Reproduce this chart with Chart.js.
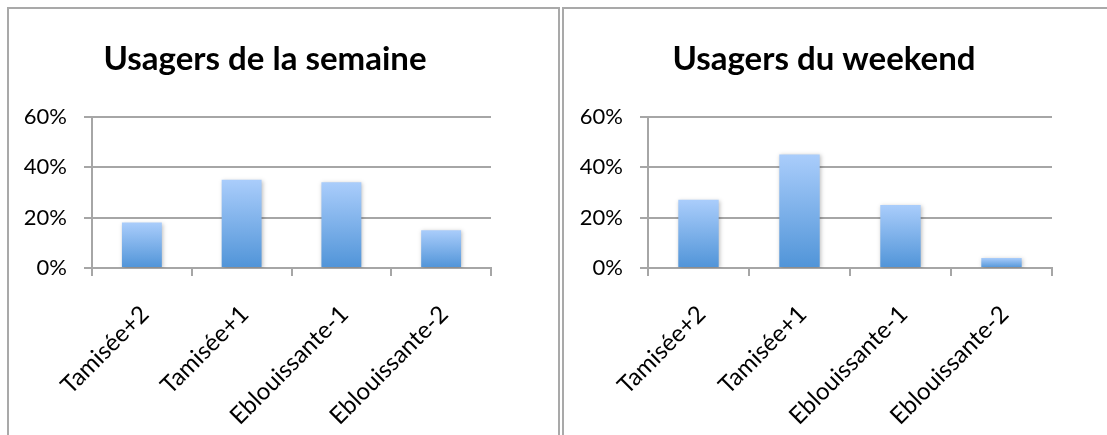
<!DOCTYPE html>
<html lang="fr">
<head>
  <meta charset="UTF-8">
  <title>Usagers</title>
  <script src="https://cdn.jsdelivr.net/npm/chart.js"></script>
  <style>
    body {
      margin: 0;
      background: #fff;
      width: 1107px;
      height: 435px;
      overflow: hidden;
      position: relative;
    }
    .box {
      position: absolute;
      top: 7px;
      border: 2px solid #a9a9a9;
      border-bottom: none;
      height: 440px;
    }
    #boxLeft { left: 7px; width: 549px; }
    #boxRight { left: 562px; width: 560px; }
    .box canvas { position: absolute; left: 0; top: 0; }
  </style>
</head>
<body>
  <div class="box" id="boxLeft"><canvas id="chartSemaine" width="549" height="426"></canvas></div>
  <div class="box" id="boxRight"><canvas id="chartWeekend" width="543" height="426"></canvas></div>

  <script>
    // values (percent)
    const categories = ["Tamisée+2", "Tamisée+1", "Eblouissante-1", "Eblouissante-2"];
    const semaineValues = [18, 35, 34, 15];
    const weekendValues = [27, 45, 25, 4];
    const yMax = 60;
    const yStep = 20;

    const gridColor = "#a6a6a6";
    const font = "Lato, 'Open Sans', sans-serif";

    // each bar gets its own light-to-dark gradient
    function barGradient(ctx) {
      const chart = ctx.chart;
      if (!chart.chartArea || !chart.scales.y) return "#7fb0ec";
      const y = chart.scales.y;
      const top = y.getPixelForValue(ctx.raw);
      const bottom = y.getPixelForValue(0);
      if (!isFinite(top) || top === bottom) return "#7fb0ec";
      const g = chart.ctx.createLinearGradient(0, top, 0, bottom);
      g.addColorStop(0, "rgb(170, 205, 251)");
      g.addColorStop(1, "rgb(80, 148, 216)");
      return g;
    }

    // soft shadow round the bars
    const barShadow = {
      id: "barShadow",
      beforeDatasetsDraw(chart) {
        const c = chart.ctx;
        c.save();
        c.shadowColor = "rgba(0, 0, 0, 0.25)";
        c.shadowBlur = 4;
        c.shadowOffsetX = 1;
        c.shadowOffsetY = 1;
      },
      afterDatasetsDraw(chart) {
        chart.ctx.restore();
      }
    };

    // the title sits a bit right of the plot centre in the original
    const titleShift = {
      id: "titleShift",
      afterLayout(chart, args, opts) {
        if (chart.titleBlock) {
          chart.titleBlock.left += opts.shift;
          chart.titleBlock.right += opts.shift;
        }
      }
    };

    function makeChart(id, title, values, pad) {
      return new Chart(document.getElementById(id), {
        type: "bar",
        data: {
          labels: categories,
          datasets: [{
            data: values,
            backgroundColor: barGradient,
            borderWidth: 0,
            categoryPercentage: 1,
            barPercentage: 0.4
          }]
        },
        options: {
          responsive: false,
          animation: false,
          layout: { padding: { left: 0, right: pad.right, top: 0, bottom: 0 } },
          plugins: {
            legend: { display: false },
            tooltip: { enabled: false },
            titleShift: { shift: pad.shift },
            title: {
              display: true,
              text: title,
              color: "#000",
              font: { family: font, size: 33, weight: "bold", lineHeight: 1.2 },
              padding: { top: 31, bottom: 37 }
            }
          },
          scales: {
            x: {
              grid: { drawOnChartArea: false, drawTicks: true, tickLength: 8, color: gridColor, lineWidth: 2 },
              border: { display: true, color: gridColor, width: 2 },
              ticks: {
                color: "#000",
                font: { family: font, size: 24 },
                minRotation: 45,
                maxRotation: 45,
                autoSkip: false,
                padding: 24,
                labelOffset: 3
              },
              afterFit(scale) { scale.height = 167; }
            },
            y: {
              min: 0,
              max: yMax,
              grid: { color: gridColor, lineWidth: 2, tickLength: 8 },
              border: { display: true, color: gridColor, width: 2 },
              ticks: {
                stepSize: yStep,
                color: "#000",
                font: { family: font, size: 22 },
                padding: 17,
                callback: v => v + "%"
              },
              afterFit(scale) { scale.width = pad.axis; }
            }
          }
        },
        plugins: [barShadow, titleShift]
      });
    }

    makeChart("chartSemaine", "Usagers de la semaine", semaineValues, { right: 67, axis: 83, shift: 15 });
    makeChart("chartWeekend", "Usagers du weekend", weekendValues, { right: 55, axis: 84, shift: 16 });
  </script>
</body>
</html>
